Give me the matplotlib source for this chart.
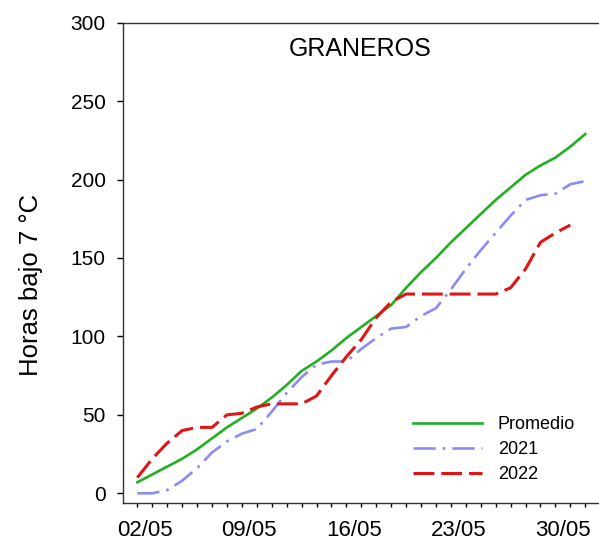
import matplotlib
matplotlib.use("Agg")
import matplotlib.pyplot as plt

plt.rcParams['font.family'] = ['Liberation Sans', 'DejaVu Sans']
plt.rcParams['lines.scale_dashes'] = False

# dias de mayo (posicion en el eje: cada punto al final del dia)
dias = list(range(2, 33))

promedio = [7, 12, 17, 22, 28, 35, 42, 48, 54, 61, 69, 78, 84, 91, 99, 106,
            113, 120, 131, 141, 150, 160, 169, 178, 187, 195, 203, 209, 214,
            221, 229]
anio_2021 = [0, 0, 2, 8, 16, 26, 33, 38, 41, 52, 64, 74, 82, 84, 84, 92,
             99, 105, 106, 113, 118, 130, 143, 155, 166, 177, 187, 190, 191,
             197, 199]
dias_2022 = list(range(2, 32))
anio_2022 = [10, 22, 32, 40, 42, 42, 50, 51, 55, 57, 57, 57, 62, 75, 87, 98,
             112, 122, 127, 127, 127, 127, 127, 127, 127, 131, 143, 160, 166,
             171]

etiquetas_x = ["02/05", "09/05", "16/05", "23/05", "30/05"]
pos_etiquetas = [2.5, 9.5, 16.5, 23.5, 30.5]

fig = plt.figure(figsize=(5.99, 5.45), dpi=100)
ax = fig.add_axes([123 / 599, 42 / 545, 1 - 123 / 599, 480.3 / 545])

ax.plot(dias, promedio, color="#22b022", lw=1.9, label="Promedio")
ax.plot(dias, anio_2021, color="#8c8cf0", lw=1.9, dashes=(16, 5, 2, 5),
        label="2021")
ax.plot(dias_2022, anio_2022, color="#e01515", lw=2.2, dashes=(15, 5),
        label="2022")

ax.set_xlim(1.04, 32.92)
ax.set_ylim(-6.2, 300)
ax.set_yticks([0, 50, 100, 150, 200, 250, 300])
ax.set_xticks(pos_etiquetas)
ax.set_xticklabels(etiquetas_x)
ax.set_xticks(range(2, 33), minor=True)
ax.tick_params(axis='x', which='major', length=0, pad=12, labelsize=16)
ax.tick_params(axis='x', which='minor', length=3, width=1, direction='out')
ax.tick_params(axis='y', length=4.5, width=1, pad=8, labelsize=15)
ax.spines['right'].set_visible(False)
for s in ['left', 'bottom', 'top']:
    ax.spines[s].set_linewidth(1.0)
    ax.spines[s].set_color("#333333")

ax.set_ylabel("Horas bajo 7 °C", fontsize=18.5)
ax.yaxis.set_label_coords(-0.168, 0.454)

ax.text(0.499, 0.945, "GRANEROS", transform=ax.transAxes, ha='center',
        va='center', fontsize=18)

ax.legend(loc='upper left', bbox_to_anchor=(413 / 599, 1 - 416 / 545),
          bbox_transform=fig.transFigure, frameon=False, fontsize=13,
          handlelength=3.8, handletextpad=0.9, labelspacing=0.45,
          borderpad=0, borderaxespad=0)

fig.savefig("out.png", dpi=100)
